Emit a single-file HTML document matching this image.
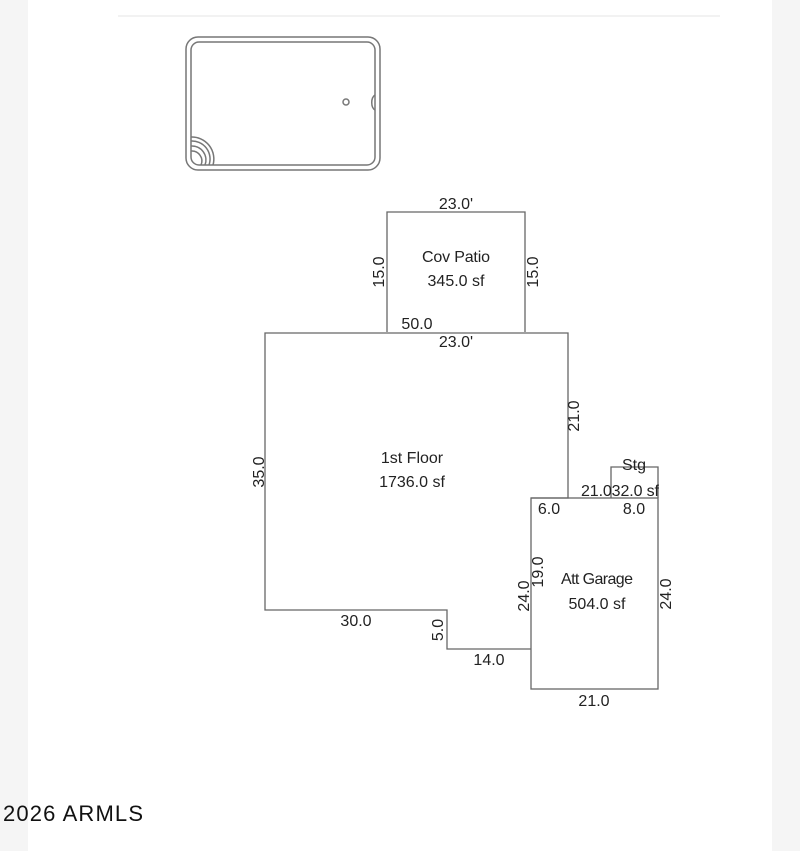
<!DOCTYPE html>
<html><head><style>
body{margin:0;width:800px;height:851px;background:#fff;overflow:hidden}
svg{display:block}
text{font-family:"Liberation Sans",sans-serif;font-size:16px;fill:#222}
</style></head><body>
<svg width="800" height="851" viewBox="0 0 800 851">
<rect x="0" y="0" width="28" height="851" fill="#f5f5f5"/>
<rect x="772" y="0" width="28" height="851" fill="#f5f5f5"/>
<line x1="118" y1="16" x2="720" y2="16" stroke="#f2f2f2" stroke-width="2"/>
<g fill="none" stroke="#777" stroke-width="1.5">
<rect x="186" y="37" width="194" height="133" rx="12"/>
<rect x="191" y="42" width="184" height="123" rx="8"/>
<circle cx="346" cy="102" r="3"/>
<path d="M375 95 A5 8 0 0 0 375 110"/>
<path d="M191 137 A22 22 0 0 1 213 165 M191 141 A18 18 0 0 1 209 165 M191 146 A14 14 0 0 1 205 165 M191 151 A10 10 0 0 1 201 165"/>
</g>
<g fill="none" stroke="#666" stroke-width="1.3">
<polyline points="387,332 387,212 525,212 525,332"/>
<polyline points="531,498 568,498 568,333 265,333 265,610 447,610 447,649 531,649"/>
<rect x="531" y="498" width="127" height="191"/>
<polyline points="611,498 611,467 658,467 658,498"/>
</g>
<g text-anchor="middle">
<text x="456" y="209">23.0'</text>
<text x="456" y="262" textLength="68">Cov Patio</text>
<text x="456" y="286">345.0 sf</text>
<text x="417" y="329">50.0</text>
<text x="456" y="347">23.0'</text>
<text x="412" y="463">1st Floor</text>
<text x="412" y="487">1736.0 sf</text>
<text x="634" y="470">Stg</text>
<text x="620" y="496" textLength="78">21.032.0 sf</text>
<text x="549" y="514">6.0</text>
<text x="634" y="514">8.0</text>
<text x="597" y="584" textLength="72">Att Garage</text>
<text x="597" y="609">504.0 sf</text>
<text x="356" y="626">30.0</text>
<text x="489" y="665">14.0</text>
<text x="594" y="706">21.0</text>
<text transform="translate(384,272) rotate(-90)">15.0</text>
<text transform="translate(538,272) rotate(-90)">15.0</text>
<text transform="translate(264,472) rotate(-90)">35.0</text>
<text transform="translate(579,416) rotate(-90)">21.0</text>
<text transform="translate(529,596) rotate(-90)">24.0</text>
<text transform="translate(543,572) rotate(-90)">19.0</text>
<text transform="translate(671,594) rotate(-90)">24.0</text>
<text transform="translate(443,630) rotate(-90)">5.0</text>
</g>
<text x="3" y="821" textLength="140" lengthAdjust="spacing" style="font-size:22px;fill:#111">2026 ARMLS</text>
</svg>
</body></html>
